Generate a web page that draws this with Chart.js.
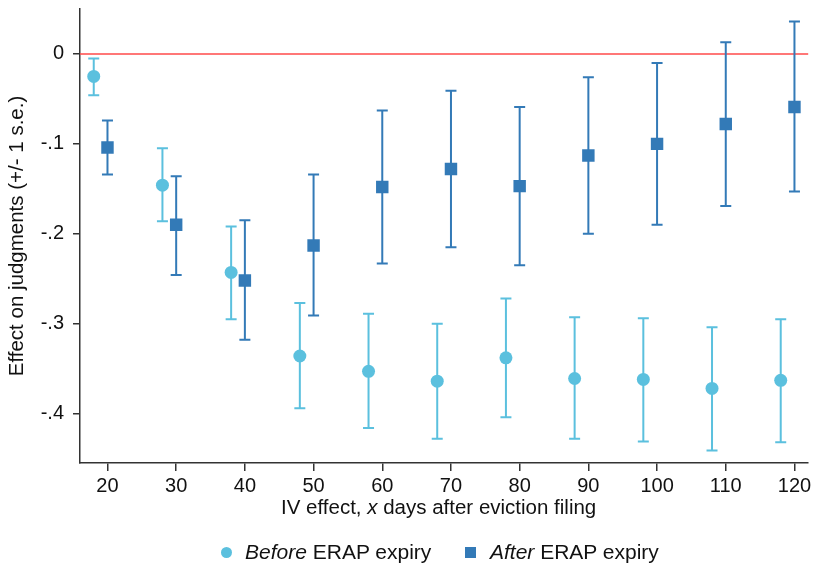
<!DOCTYPE html>
<html>
<head>
<meta charset="utf-8">
<script src="https://cdn.jsdelivr.net/npm/chart.js@4.4.0/dist/chart.umd.min.js"></script>
<style>
    html, body { margin: 0; padding: 0; background: #fff; }
    #wrap { position: relative; width: 817px; height: 568px; font-family: "Liberation Sans", Arial, sans-serif; color: #111; }
    #chart { position: absolute; left: 0; top: 0; }
    .txt { position: absolute; font-size: 20.5px; line-height: 1; white-space: nowrap; }
    .leg { font-size: 21px; }
    .key { position: absolute; width: 11px; height: 11px; }
    .dot { border-radius: 50%; background: #5bc0de; }
    .sq { background: #337ab7; }
</style>
</head>
<body>
<div id="wrap">
    <canvas id="chart" width="817" height="568"></canvas>
    <div class="txt" style="left: 281px; top: 496.5px;">IV effect, <i>x</i> days after eviction filing</div>
    <span class="key dot" style="left: 220.5px; top: 547px;"></span>
    <span class="txt leg" style="left: 245px; top: 541px;"><i>Before</i> ERAP expiry</span>
    <span class="key sq" style="left: 464.5px; top: 547px;"></span>
    <span class="txt leg" style="left: 490px; top: 541px;"><i>After</i> ERAP expiry</span>
</div>
<script>
// Estimates before ERAP expiry (plotted 2 days left of the tick)
const beforeDays = [18, 28, 38, 48, 58, 68, 78, 88, 98, 108, 118];
const beforeEst = [-0.025, -0.146, -0.243, -0.336, -0.353, -0.364, -0.338, -0.361, -0.362, -0.372, -0.363];
const beforeLo = [-0.046, -0.186, -0.295, -0.394, -0.416, -0.428, -0.404, -0.428, -0.431, -0.441, -0.432];
const beforeHi = [-0.005, -0.105, -0.192, -0.277, -0.289, -0.300, -0.272, -0.293, -0.294, -0.304, -0.295];

// Estimates after ERAP expiry
const afterDays = [20, 30, 40, 50, 60, 70, 80, 90, 100, 110, 120];
const afterEst = [-0.104, -0.190, -0.252, -0.213, -0.148, -0.128, -0.147, -0.113, -0.100, -0.078, -0.059];
const afterLo = [-0.134, -0.246, -0.318, -0.291, -0.233, -0.215, -0.235, -0.200, -0.190, -0.169, -0.153];
const afterHi = [-0.074, -0.136, -0.185, -0.134, -0.063, -0.041, -0.059, -0.026, -0.010, 0.013, 0.036];

const xTicks = [20, 30, 40, 50, 60, 70, 80, 90, 100, 110, 120];
const yTicks = [0, -0.1, -0.2, -0.3, -0.4];

const lightBlue = '#5bc0de';
const darkBlue = '#337ab7';
const axisColor = '#333';
const fontFamily = '"Liberation Sans", Arial, sans-serif';
const tickFont = { family: fontFamily, size: 20 };

function toPoints(xs, ys, lo, hi) {
    return xs.map((x, i) => ({ x: x, y: ys[i], lo: lo[i], hi: hi[i] }));
}

// Zero reference line and +/- 1 s.e. whiskers, drawn under the markers
const errorBars = {
    id: 'errorBars',
    beforeDatasetsDraw(chart) {
        const ctx = chart.ctx;
        const xs = chart.scales.x;
        const ys = chart.scales.y;
        const area = chart.chartArea;

        ctx.save();
        ctx.strokeStyle = '#ff4a4a';
        ctx.lineWidth = 1.5;
        ctx.beginPath();
        ctx.moveTo(area.left, ys.getPixelForValue(0));
        ctx.lineTo(area.right, ys.getPixelForValue(0));
        ctx.stroke();

        chart.data.datasets.forEach(ds => {
            ctx.strokeStyle = ds.backgroundColor;
            ctx.lineWidth = 2;
            ds.data.forEach(p => {
                const px = xs.getPixelForValue(p.x);
                const top = ys.getPixelForValue(p.hi);
                const bot = ys.getPixelForValue(p.lo);
                ctx.beginPath();
                ctx.moveTo(px, top);
                ctx.lineTo(px, bot);
                ctx.moveTo(px - 5.5, top);
                ctx.lineTo(px + 5.5, top);
                ctx.moveTo(px - 5.5, bot);
                ctx.lineTo(px + 5.5, bot);
                ctx.stroke();
            });
        });
        ctx.restore();
    }
};

new Chart(document.getElementById('chart'), {
    type: 'scatter',
    data: {
        datasets: [
            {
                label: 'Before ERAP expiry',
                data: toPoints(beforeDays, beforeEst, beforeLo, beforeHi),
                backgroundColor: lightBlue,
                borderWidth: 0,
                pointStyle: 'circle',
                pointRadius: 6.5
            },
            {
                label: 'After ERAP expiry',
                data: toPoints(afterDays, afterEst, afterLo, afterHi),
                backgroundColor: darkBlue,
                borderWidth: 0,
                pointStyle: 'rect',
                pointRadius: 8.8
            }
        ]
    },
    options: {
        responsive: false,
        animation: false,
        devicePixelRatio: 1,
        layout: { padding: { top: 9, right: 8, left: 0, bottom: 0 } },
        plugins: {
            legend: { display: false },
            tooltip: { enabled: false }
        },
        scales: {
            x: {
                type: 'linear',
                min: 16,
                max: 122,
                afterBuildTicks: scale => { scale.ticks = xTicks.map(v => ({ value: v })); },
                afterFit: scale => {
                    scale.height = 105;
                    scale.paddingLeft = 0;
                    scale.paddingRight = 0;
                },
                grid: { drawOnChartArea: false, tickLength: 8, color: axisColor, lineWidth: 1.5 },
                border: { color: axisColor, width: 1.5 },
                ticks: { color: '#111', font: tickFont, padding: 3, maxRotation: 0 }
            },
            y: {
                type: 'linear',
                min: -0.455,
                max: 0.05,
                afterBuildTicks: scale => { scale.ticks = yTicks.map(v => ({ value: v })); },
                afterFit: scale => {
                    scale.width = 80;
                    scale.paddingTop = 0;
                    scale.paddingBottom = 0;
                },
                grid: { drawOnChartArea: false, tickLength: 7, color: axisColor, lineWidth: 1.5 },
                border: { color: axisColor, width: 1.5 },
                ticks: {
                    color: '#111',
                    font: tickFont,
                    padding: 9,
                    callback: v => v === 0 ? '0' : v.toFixed(1).replace('0.', '.')
                },
                title: {
                    display: true,
                    text: 'Effect on judgments (+/- 1 s.e.)',
                    color: '#111',
                    font: { family: fontFamily, size: 20.5 },
                    padding: { top: 5, bottom: 0 }
                }
            }
        }
    },
    plugins: [errorBars]
});
</script>
</body>
</html>
